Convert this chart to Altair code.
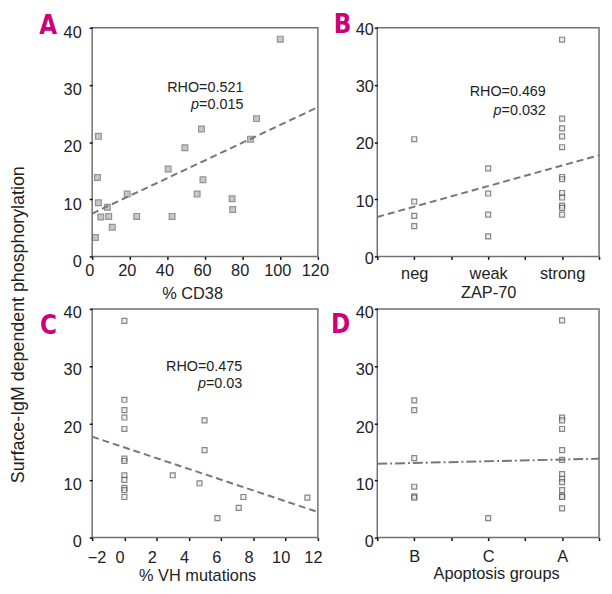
import altair as alt
import pandas as pd

FONT = "Liberation Sans, Arial, Helvetica, sans-serif"
LETTER_FONT = "Liberation Sans Narrow, DejaVu Sans Condensed, Liberation Sans, sans-serif"
MAGENTA = "#cc0077"
TXT = "#222222"

# ---------------- data ----------------
y_title = "Surface-IgM dependent phosphorylation"

# Panel A: % CD38
a_cd38 = [100, 87.4, 84.2, 58.1, 49.3, 40.4, 58.9, 55.8, 74.4, 74.7, 42.5,
          23.7, 18.6, 8.8, 8.1, 4.6, 10.7, 3.3, 2.8, 3.3, 1.75]
a_phos = [38.0, 24.1, 20.5, 22.3, 19.0, 15.3, 13.4, 10.9, 10.1, 8.2, 7.0,
          7.0, 10.9, 7.0, 8.6, 6.9, 5.1, 21.0, 13.8, 9.4, 3.3]
a_fit_x = [0, 120]
a_fit_y = [7.5, 26.1]
a_ticks = [0, 20, 40, 60, 80, 100, 120]

# Panel B: ZAP-70
b_categories = ["neg", "weak", "strong"]
b_groups = ["neg"] * 4 + ["weak"] * 4 + ["strong"] * 12
b_phos = [20.5, 9.6, 7.1, 5.3,
          15.4, 11.0, 7.3, 3.5,
          37.9, 24.1, 22.4, 21.0, 19.1, 13.9, 13.5, 11.1, 10.3, 8.9, 8.5, 7.3]
b_fit_x = [0.5, 3.5]
b_fit_y = [6.9, 17.7]

# Panel C: % VH mutations
c_vh = [0] * 12 + [3.0, 4.66, 4.97, 4.97, 5.77, 7.09, 7.38, 11.35]
c_phos = [37.9, 24.1, 22.3, 21.0, 19.0, 13.8, 13.4, 10.9, 10.1, 8.7, 8.3, 7.1,
          10.9, 9.5, 20.5, 15.3, 3.4, 5.2, 7.1, 7.0]
c_fit_x = [-2, 12]
c_fit_y = [17.65, 4.47]
c_ticks = [-2, 0, 2, 4, 6, 8, 10, 12]

# Panel D: Apoptosis groups
d_categories = ["B", "C", "A"]
d_groups = ["B"] * 6 + ["C"] * 1 + ["A"] * 13
d_phos = [24.0, 22.3, 13.9, 8.9, 7.2, 7.0,
          3.4,
          38.0, 21.0, 20.5, 19.0, 15.3, 13.6, 11.1, 10.3, 9.7, 8.3, 7.2, 7.1, 5.1]
d_fit_x = [0.5, 3.5]
d_fit_y = [12.9, 13.8]

# correlation annotations (second line is preceded by an italic "p")
a_stats = ["RHO=0.521", "=0.015"]
b_stats = ["RHO=0.469", "=0.032"]
c_stats = ["RHO=0.475", "=0.03"]

y_ticks = [0, 10, 20, 30, 40]
cat_ticks = [0.5, 1, 1.5, 2, 2.5, 3, 3.5]

# ---------------- helpers ----------------
W_L, W_R, H = 228, 224, 231
FS = 16.5
FS_STAT = 14.5


def y_axis(pad, offset):
    return alt.Axis(values=y_ticks, grid=False, domain=False, tickSize=3,
                    tickWidth=1.5, tickColor="#111", labelPadding=pad,
                    labelOffset=offset, labelFontSize=FS, labelFont=FONT,
                    labelColor=TXT, labelOverlap=False, title=None)


def x_axis(values, title, title_x, title_y, pad, offset=0, label_expr=None,
           label_align=None):
    kw = dict(values=values, grid=False, domain=False, tickSize=3, tickWidth=1.5,
              tickColor="#111", labelPadding=pad, labelOffset=offset,
              labelFontSize=FS, labelFont=FONT, labelColor=TXT,
              labelFlush=False, labelOverlap=False,
              title=title, titleFont=FONT, titleFontSize=FS,
              titleFontWeight="normal", titleColor=TXT, titleX=title_x,
              titleY=title_y, titleBaseline="top", titleAlign="center")
    if label_expr is not None:
        kw["labelExpr"] = label_expr
    if label_align is not None:
        kw["labelAlign"] = label_align
    return alt.Axis(**kw)


def cat_expr(cats):
    e = "''"
    for i, c in reversed(list(enumerate(cats))):
        e = f"datum.value == {i + 1} ? '{c}' : {e}"
    return e


def panel(df, fit_df, xenc, yenc, width, point_style, line_dash, letter,
          letter_xy, stats=None, stat_pos=None, p_dx=0, extra=None):
    pts = alt.Chart(df).mark_point(shape="square", filled=True,
                                   **point_style).encode(x=xenc, y=yenc)
    line = alt.Chart(fit_df).mark_line(color="#777777", strokeWidth=2,
                                       strokeDash=line_dash).encode(x=xenc, y=yenc)
    layers = [pts, line]
    if stats:
        tdf = pd.DataFrame({"x": [stat_pos[0]] * 2,
                            "y": [stat_pos[1], stat_pos[2]],
                            "t": stats})
        layers.append(alt.Chart(tdf).mark_text(
            align="right", baseline="alphabetic", font=FONT, fontSize=FS_STAT,
            color=TXT).encode(x=xenc, y=yenc, text="t:N"))
        pdf = pd.DataFrame({"x": [stat_pos[0]], "y": [stat_pos[2]], "t": ["p"]})
        layers.append(alt.Chart(pdf).mark_text(
            align="right", baseline="alphabetic", font=FONT, fontSize=FS_STAT,
            fontStyle="italic", color=TXT, dx=p_dx
        ).encode(x=xenc, y=yenc, text="t:N"))
    layers.append(
        alt.Chart(pd.DataFrame({"t": [letter]})).mark_text(
            align="center", baseline="top", font=LETTER_FONT,
            fontSize=26, fontWeight="bold", color=MAGENTA
        ).encode(x=alt.value(letter_xy[0]), y=alt.value(letter_xy[1]), text="t:N"))
    if extra is not None:
        layers.append(extra)
    return alt.layer(*layers).properties(width=width, height=H)


yscale = alt.Scale(domain=[0, 40], nice=False, zero=False)

# ---- A ----
dfA = pd.DataFrame({"x": a_cd38, "y": a_phos})
fitA = pd.DataFrame({"x": a_fit_x, "y": a_fit_y})
xA = alt.X("x:Q", scale=alt.Scale(domain=[0, 120], nice=False, zero=False),
           axis=x_axis(a_ticks, "% CD38", 101, 29.5, 3, offset=-3))
yA = alt.Y("y:Q", scale=yscale, axis=y_axis(8, 5))
ytitle = alt.Chart(pd.DataFrame({"t": [y_title]})).mark_text(
    angle=270, align="center", baseline="middle", font=FONT, fontSize=18,
    color=TXT).encode(x=alt.value(-73.5), y=alt.value(300), text="t:N")
styleA = dict(size=34, fill="#b0b0b0", stroke="#666666", strokeWidth=1.2)
P_DX_LONG = -(3.086 * FS_STAT)   # width of "=0.015" / "=0.032"
P_DX_SHORT = -(2.530 * FS_STAT)  # width of "=0.03"
panelA = panel(dfA, fitA, xA, yA, W_L, styleA, [7, 4], "A", (-44.5, -14.4),
               a_stats, (80.4, 28.8, 25.8), P_DX_LONG, extra=ytitle)

# ---- B ----
dfB = pd.DataFrame({"g": b_groups, "y": b_phos})
dfB["x"] = [b_categories.index(g) + 1 for g in dfB["g"]]
fitB = pd.DataFrame({"x": b_fit_x, "y": b_fit_y})
xB = alt.X("x:Q", scale=alt.Scale(domain=[0.5, 3.5], nice=False, zero=False),
           axis=x_axis(cat_ticks, "ZAP-70", 112, 28.5, 6,
                       label_expr=cat_expr(b_categories)))
yB = alt.Y("y:Q", scale=yscale, axis=y_axis(1, 2))
styleS = dict(size=25, fill="#e8e8e8", stroke="#555555", strokeWidth=1.2)
panelB = panel(dfB, fitB, xB, yB, W_R, styleS, [7, 4], "B", (-35, -15.8),
               b_stats, (2.78, 28.1, 24.8), P_DX_LONG)

# ---- C ----
dfC = pd.DataFrame({"x": c_vh, "y": c_phos})
fitC = pd.DataFrame({"x": c_fit_x, "y": c_fit_y})
xC = alt.X("x:Q", scale=alt.Scale(domain=[-2, 12], nice=False, zero=False),
           axis=x_axis(c_ticks, "% VH mutations", 106, 30.5, 9, offset=-5,
                       label_align={"condition": {"test": "datum.value == -2",
                                                  "value": "left"},
                                    "value": "center"}))
yC = alt.Y("y:Q", scale=yscale, axis=y_axis(8, 4))
panelC = panel(dfC, fitC, xC, yC, W_L, styleS, [7, 4], "C", (-44, 4.7),
               c_stats, (7.31, 29.2, 26.1), P_DX_SHORT)

# ---- D ----
dfD = pd.DataFrame({"g": d_groups, "y": d_phos})
dfD["x"] = [d_categories.index(g) + 1 for g in dfD["g"]]
fitD = pd.DataFrame({"x": d_fit_x, "y": d_fit_y})
xD = alt.X("x:Q", scale=alt.Scale(domain=[0.5, 3.5], nice=False, zero=False),
           axis=x_axis(cat_ticks, "Apoptosis groups", 120, 28.5, 8.5,
                       label_expr=cat_expr(d_categories)))
yD = alt.Y("y:Q", scale=yscale, axis=y_axis(1, 4))
panelD = panel(dfD, fitD, xD, yD, W_R, styleS, [10, 3, 2, 3], "D", (-37, 3.7))

chart = alt.concat(panelA, panelB, panelC, panelD, columns=2,
                   spacing=alt.RowColnumber(row=53, column=60),
                   bounds="flush").configure_view(
    stroke="#707070", strokeWidth=1.5
).properties(padding={"left": 1, "top": 0, "right": 0, "bottom": 0},
             background="white")

chart.save("out.html", embed_options={"renderer": "svg", "actions": False})
